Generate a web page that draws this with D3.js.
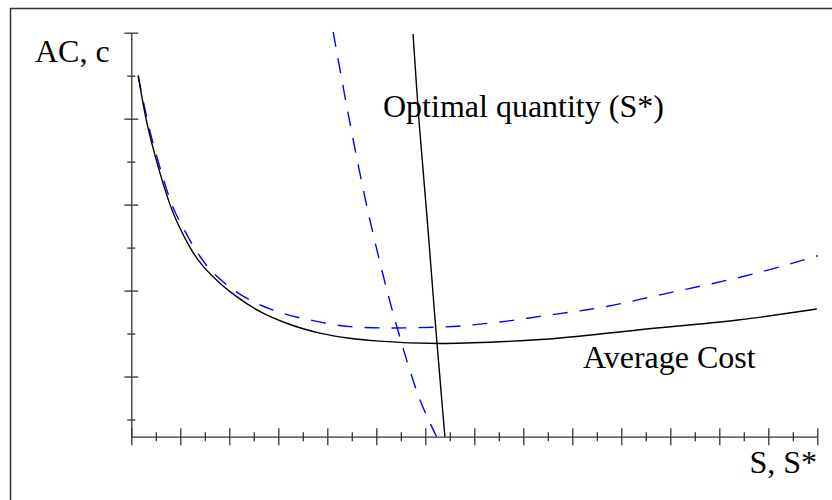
<!DOCTYPE html>
<html>
<head>
<meta charset="utf-8">
<script src="https://cdn.jsdelivr.net/npm/d3@7"></script>
<style>
  body { margin: 0; background: #fff; }
  text { font-family: "Liberation Serif", "Times New Roman", serif; font-size: 32px; fill: #000; }
</style>
</head>
<body>
<svg id="chart" width="832" height="500"></svg>
<script>
// average cost, solid black
var acX = [0.14, 0.30, 0.52, 0.79, 1.20, 1.81, 2.15, 2.63, 3.17, 3.85, 4.46, 4.99, 6.30, 7.52, 8.34, 10.38, 12.42, 13.99];
var acY = [9.0, 8.0, 7.0, 6.0, 5.0, 4.17, 3.86, 3.51, 3.24, 3.01, 2.89, 2.83, 2.77, 2.81, 2.86, 3.09, 3.32, 3.57];

// average cost, dashed blue
var ac2X = [0.14, 0.32, 0.55, 0.83, 1.10, 1.50, 1.95, 2.49, 3.10, 3.71, 4.46, 5.22, 6.30, 7.52, 8.34, 9.70, 10.79, 12.84, 14.01];
var ac2Y = [9.0, 8.0, 7.0, 6.0, 5.37, 4.64, 4.13, 3.74, 3.47, 3.30, 3.16, 3.13, 3.15, 3.27, 3.40, 3.63, 3.90, 4.43, 4.81];

// optimal quantity S*, solid black
var sX = [5.75, 5.87, 6.04, 6.20, 6.40];
var sY = [9.97, 7.97, 5.64, 3.31, 0.6];

// optimal quantity S*, dashed blue
var s2X = [4.12, 4.45, 4.87, 5.38, 5.89, 6.23];
var s2Y = [10.02, 7.97, 5.64, 3.32, 1.46, 0.6];

var xMajor = d3.range(0, 15, 1);
var xMinor = d3.range(0.5, 14, 1);
var yMajor = [10, 8, 6, 4, 2];
var yMinor = [9, 7, 5, 3, 1];

var svg = d3.select("#chart");

// frame (runs off the right and bottom edges)
svg.append("rect")
  .attr("x", 10.5).attr("y", 8.5)
  .attr("width", 900).attr("height", 600)
  .attr("fill", "none")
  .attr("stroke", "#333")
  .attr("stroke-width", 1.5);

var x = d3.scaleLinear().domain([0, 14]).range([131.3, 817.3]);
var y = d3.scaleLinear().domain([0.6, 10]).range([436.7, 32.7]);

function styleAxis(g, half, horiz) {
  g.select(".domain").attr("stroke", "#333").attr("stroke-width", 1.3);
  g.selectAll(".tick line")
    .attr("stroke", "#333")
    .attr("stroke-width", 1.3)
    .attr(horiz ? "y1" : "x1", -half)
    .attr(horiz ? "y2" : "x2", half);
  g.selectAll(".tick text").remove();
}

var xAxisG = svg.append("g")
  .attr("transform", "translate(0," + y.range()[0] + ")")
  .call(d3.axisBottom(x).tickValues(xMajor).tickSizeOuter(0));
styleAxis(xAxisG, 8.5, true);

var xMinorG = svg.append("g")
  .attr("transform", "translate(0," + y.range()[0] + ")")
  .call(d3.axisBottom(x).tickValues(xMinor).tickSizeOuter(0));
styleAxis(xMinorG, 4.5, true);
xMinorG.select(".domain").remove();

var yAxisG = svg.append("g")
  .attr("transform", "translate(" + x.range()[0] + ",0)")
  .call(d3.axisLeft(y).tickValues(yMajor).tickSizeOuter(0));
styleAxis(yAxisG, 7, false);

var yMinorG = svg.append("g")
  .attr("transform", "translate(" + x.range()[0] + ",0)")
  .call(d3.axisLeft(y).tickValues(yMinor).tickSizeOuter(0));
styleAxis(yMinorG, 4, false);
yMinorG.select(".domain").remove();

var smooth = d3.line()
  .x(d => x(d[0]))
  .y(d => y(d[1]))
  .curve(d3.curveMonotoneX);

var steep = d3.line()
  .x(d => x(d[0]))
  .y(d => y(d[1]))
  .curve(d3.curveCatmullRom.alpha(0.5));

function plot(xs, ys, gen, color, dash) {
  svg.append("path")
    .datum(d3.zip(xs, ys))
    .attr("d", gen)
    .attr("fill", "none")
    .attr("stroke", color)
    .attr("stroke-width", 1.4)
    .attr("stroke-dasharray", dash);
}

plot(ac2X, ac2Y, smooth, "#0000ff", "15,12");
plot(s2X, s2Y, steep, "#0000ff", "15,12");
plot(acX, acY, smooth, "#000", null);
plot(sX, sY, steep, "#000", null);

svg.append("text").attr("x", 35).attr("y", 62).text("AC, c");
svg.append("text").attr("x", 383).attr("y", 117).text("Optimal quantity (S*)");
svg.append("text").attr("x", 583).attr("y", 368).text("Average Cost");
svg.append("text").attr("x", 817).attr("y", 473).attr("text-anchor", "end").text("S, S*");
</script>
</body>
</html>
